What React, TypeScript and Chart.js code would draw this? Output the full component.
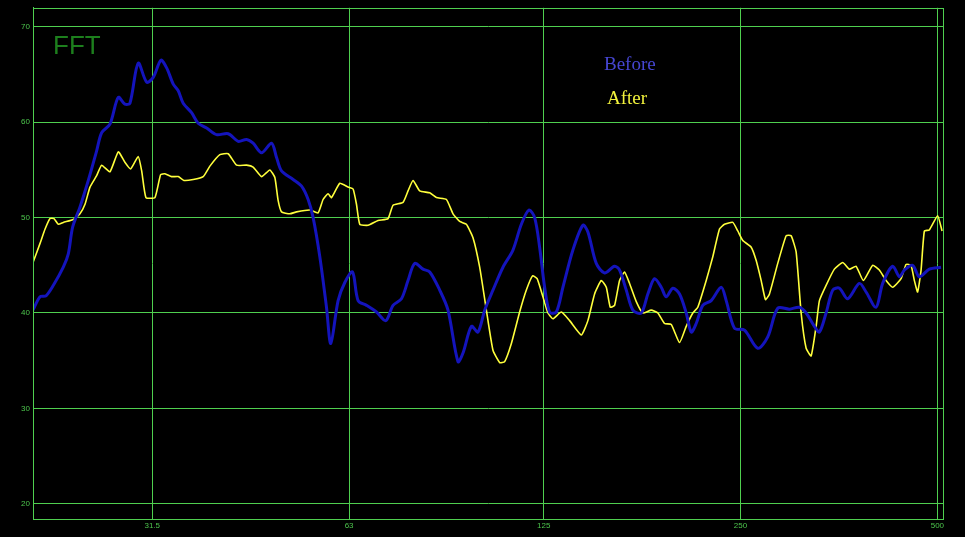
import { useEffect, useRef } from "react";
import { Chart, registerables } from "chart.js";

Chart.register(...registerables);

// ---- data ----
const xTickValues = [31.5, 63, 125, 250, 500];
const xTickLabels = ["31.5", "63", "125", "250", "500"];
const yTickValues = [20, 30, 40, 50, 60, 70];
const xMin = 20.7;
const xMax = 510;
const yMin = 18.4;
const yMax = 72;

const titleText = "FFT";
const seriesNames = ["Before", "After"];

const beforeFreq = [
  20.7, 21.22, 21.67, 22.24, 23.03, 23.44, 23.8, 24.42, 25.15, 25.9, 26.36, 27.14, 27.95, 28.61, 29.12, 29.98,
  30.89, 31.61, 32.48, 33.14, 33.92, 34.52, 35.13, 36.18, 37.03, 38.15, 39.51, 41.16, 42.63, 43.91, 44.94,
  46.29, 47.95, 48.8, 49.66, 51.73, 53.29, 54.54, 55.51, 56.83, 58.18, 59.07, 60.61, 62.06, 63.76, 65.03,
  66.98, 69.38, 71.69, 73.55, 75.76, 77.53, 79.38, 81.74, 83.69, 86.68, 89.25, 92.45, 94.09, 96.91, 99.19,
  101.56, 104.56, 108.31, 112.19, 115.55, 118.68, 121.09, 123.23, 125.42, 127.65, 130.69, 133.77, 138.55,
  143.51, 146.06, 150.44, 154.9, 160.45, 163.3, 167.19, 171.12, 176.25, 180.39, 184.7, 189.1, 192.46, 196.98,
  201.68, 206.49, 210.16, 213.89, 218.91, 225.48, 233.55, 237.7, 244.74, 253.5, 265.65, 275.16, 285.01, 297.0,
  307.6, 314.96, 324.3, 330.05, 337.9, 345.9, 354.1, 364.6, 379.9, 389.0, 402.9, 412.4, 427.2, 437.4, 445.1,
  458.3, 469.2, 486.0, 506.5,
];
const beforeDb = [
  40.3, 41.7, 41.8, 42.9, 44.8, 46.2, 49.0, 51.1, 53.9, 57.0, 58.9, 59.8, 62.6, 61.9, 62.0, 66.2,
  64.2, 64.7, 66.5, 65.7, 64.0, 63.3, 62.0, 61.0, 59.9, 59.4, 58.7, 58.8, 58.0, 58.2, 57.8,
  56.8, 57.8, 56.3, 54.9, 54.0, 53.3, 51.9, 50.0, 45.9, 40.6, 36.8, 41.3, 43.2, 44.3, 41.3,
  40.8, 40.1, 39.2, 40.8, 41.5, 43.4, 45.2, 44.6, 44.3, 42.4, 40.3, 34.9, 35.8, 38.6, 38.0,
  40.3, 42.4, 44.8, 46.6, 49.3, 50.8, 50.0, 46.9, 42.7, 40.1, 40.1, 42.7, 46.6,
  49.2, 48.5, 45.2, 44.2, 44.9, 44.5, 42.4, 40.3, 40.0, 42.0, 43.6, 42.7, 41.7, 42.6,
  42.0, 40.0, 38.0, 38.9, 40.8, 41.3, 42.7, 41.3, 38.4, 38.2, 36.3, 37.5, 40.5, 40.4,
  40.6, 40.0, 38.6, 38.0, 40.0, 42.4, 42.6, 41.5, 43.1, 42.2, 40.6, 43.1, 44.9, 43.8, 44.5,
  45.0, 43.8, 44.6, 44.8,
];

const afterFreq = [
  20.7, 21.22, 21.6, 21.98, 22.29, 22.63, 23.03, 23.86, 24.42, 24.86, 25.3, 25.9, 26.36, 27.14, 27.95, 28.61,
  29.19, 29.98, 30.35, 30.81, 31.8, 32.44, 32.94, 33.72, 34.52, 35.22, 36.39, 37.69, 38.59, 39.97, 41.16,
  42.39, 43.91, 44.94, 46.29, 47.66, 48.51, 49.07, 49.66, 51.13, 52.36, 54.86, 56.49, 57.49, 58.51, 59.22,
  60.97, 62.78, 63.89, 64.66, 65.42, 67.36, 69.77, 72.27, 73.55, 76.18, 77.53, 78.91, 80.79, 83.69, 85.68,
  88.75, 90.84, 93.0, 95.22, 97.46, 99.78, 102.16, 104.56, 107.06, 108.96, 111.56, 114.86, 117.6, 120.24,
  122.16, 124.67, 126.89, 129.14, 133.01, 136.96, 142.72, 146.06, 149.55, 153.11, 155.83, 158.04, 160.45,
  163.3, 166.19, 169.14, 173.18, 177.25, 182.56, 186.85, 191.31, 195.88, 201.68, 206.49, 211.34, 215.09,
  221.55, 226.75, 232.16, 236.28, 243.28, 247.6, 252.0, 259.57, 264.18, 268.87, 272.97, 276.82, 285.01,
  293.57, 298.78, 304.08, 309.48, 314.96, 320.56, 326.25, 330.05, 337.9, 347.9, 358.3, 366.8, 375.6, 385.3,
  398.1, 407.6, 417.4, 427.2, 440.0, 447.8, 455.7, 461.1, 466.4, 472.1, 477.6, 486.0, 500.5, 508.3,
];
const afterDb = [
  45.3, 47.3, 48.8, 49.9, 49.9, 49.3, 49.5, 49.8, 50.4, 51.4, 53.2, 54.4, 55.5, 54.8, 56.9, 55.8,
  55.1, 56.4, 54.9, 52.1, 52.1, 54.5, 54.6, 54.3, 54.3, 53.9, 54.0, 54.3, 55.4, 56.6, 56.7,
  55.5, 55.5, 55.3, 54.3, 55.0, 54.2, 51.8, 50.6, 50.4, 50.6, 50.8, 50.5, 51.9, 52.5, 52.1,
  53.6, 53.2, 53.0, 51.4, 49.3, 49.2, 49.7, 49.9, 51.3, 51.6, 52.8, 53.9, 52.8, 52.6, 52.1,
  51.9, 50.4, 49.6, 49.3, 47.9, 44.8, 40.3, 36.1, 34.8, 34.9, 36.8, 40.1, 42.4, 43.9,
  43.6, 41.7, 40.0, 39.4, 40.1, 39.2, 37.7, 39.2, 42.0, 43.4, 42.7, 40.6, 40.8,
  43.4, 44.3, 43.1, 41.2, 40.0, 40.3, 40.0, 38.9, 38.8, 36.9, 38.6, 40.0, 40.6,
  43.4, 45.9, 48.8, 49.3, 49.5, 48.6, 47.6, 46.9, 45.5, 43.4, 41.4, 42.0, 45.2,
  48.1, 48.1, 46.4, 40.0, 36.3, 35.5, 38.6, 41.3, 42.9, 44.6, 45.3, 44.6, 44.9, 43.4,
  45.0, 44.5, 43.4, 42.7, 43.6, 45.1, 45.0, 43.4, 42.2, 44.5, 48.6, 48.7, 50.2, 48.6,
];

// ---- styles ----
const GRID = "#4fcf4f";
const TICK = "#4cc44c";
const BLUE = "#1414bc";
const YELLOW = "#ffff3c";

const bgPlugin = {
  id: "bg",
  beforeDraw(chart: any) {
    const ctx = chart.ctx;
    ctx.save();
    ctx.fillStyle = "#000";
    ctx.fillRect(0, 0, chart.width, chart.height);
    ctx.restore();
  },
  afterDraw(chart: any) {
    const { ctx, chartArea } = chart;
    ctx.save();
    ctx.strokeStyle = GRID;
    ctx.lineWidth = 1;
    ctx.strokeRect(
      Math.round(chartArea.left) + 0.5,
      Math.round(chartArea.top) + 0.5,
      Math.round(chartArea.right - chartArea.left),
      Math.round(chartArea.bottom - chartArea.top)
    );
    ctx.textBaseline = "alphabetic";
    ctx.textAlign = "left";
    ctx.fillStyle = "#1d7f1d";
    ctx.font = "26px 'Liberation Sans', Arial, sans-serif";
    ctx.fillText(titleText, chartArea.left + 20, chartArea.top + 46);
    ctx.font = "19px 'Liberation Serif', 'Times New Roman', serif";
    ctx.fillStyle = "#4646d2";
    ctx.fillText(seriesNames[0], 604, 70);
    ctx.fillStyle = "#f2f23c";
    ctx.fillText(seriesNames[1], 607, 104);
    ctx.restore();
  },
};

export default function App() {
  const ref = useRef<HTMLCanvasElement | null>(null);
  useEffect(() => {
    document.body.style.margin = "0";
    document.body.style.background = "#000";
    const canvas = ref.current!;
    const chart = new Chart(canvas, {
      type: "line",
      data: {
        datasets: [
          {
            label: seriesNames[0],
            data: beforeFreq.map((f, i) => ({ x: f, y: beforeDb[i] })),
            borderColor: BLUE,
            borderWidth: 3,
            pointRadius: 0,
            tension: 0.3,
            fill: false,
          },
          {
            label: seriesNames[1],
            data: afterFreq.map((f, i) => ({ x: f, y: afterDb[i] })),
            borderColor: YELLOW,
            borderWidth: 1.6,
            pointRadius: 0,
            tension: 0.15,
            fill: false,
          },
        ],
      },
      options: {
        responsive: false,
        animation: false,
        devicePixelRatio: 1,
        layout: { padding: { top: 6, right: 22, left: 0, bottom: 0 } },
        plugins: { legend: { display: false }, tooltip: { enabled: false } },
        scales: {
          x: {
            type: "logarithmic",
            min: xMin,
            max: xMax,
            afterFit: (s: any) => {
              s.height = 18;
            },
            afterBuildTicks: (s: any) => {
              s.ticks = xTickValues.map((v) => ({ value: v }));
            },
            ticks: {
              color: TICK,
              font: { size: 8, family: "'Liberation Sans', Arial, sans-serif" },
              padding: 2,
              maxRotation: 0,
              autoSkip: false,
              callback: (v: any) => {
                const i = xTickValues.indexOf(Number(v));
                return i >= 0 ? xTickLabels[i] : "";
              },
            },
            grid: { color: GRID, lineWidth: 1, drawTicks: false },
            border: { color: GRID },
          },
          y: {
            type: "linear",
            min: yMin,
            max: yMax,
            afterFit: (s: any) => {
              s.width = 33;
            },
            afterBuildTicks: (s: any) => {
              s.ticks = yTickValues.map((v) => ({ value: v }));
            },
            ticks: {
              color: TICK,
              font: { size: 8, family: "'Liberation Sans', Arial, sans-serif" },
              padding: 3,
              autoSkip: false,
              callback: (v: any) => String(v),
            },
            grid: { color: GRID, lineWidth: 1, drawTicks: false },
            border: { color: GRID },
          },
        },
      },
      plugins: [bgPlugin],
    } as any);
    return () => chart.destroy();
  }, []);
  return (
    <div style={{ width: 965, height: 537, background: "#000" }}>
      <canvas ref={ref} width={965} height={537} style={{ display: "block", width: 965, height: 537 }} />
    </div>
  );
}
